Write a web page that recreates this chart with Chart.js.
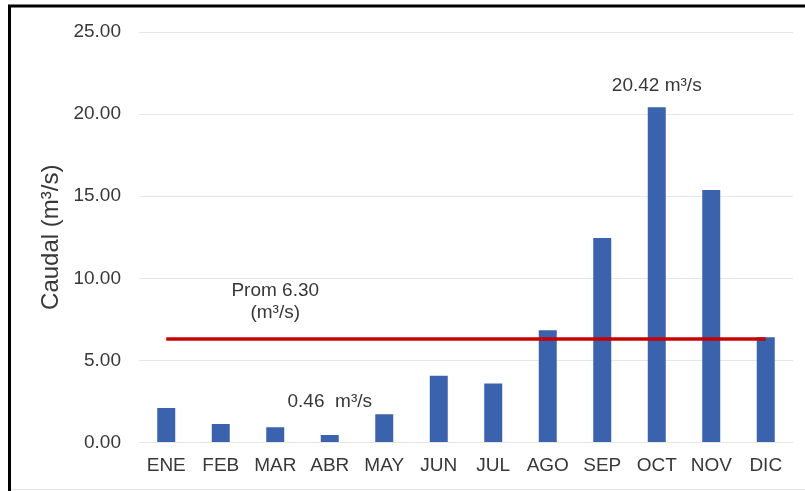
<!DOCTYPE html>
<html>
<head>
<meta charset="utf-8">
<script src="https://cdn.jsdelivr.net/npm/chart.js@4"></script>
<style>
  html, body { margin: 0; padding: 0; background: #ffffff; }
  #wrap { width: 805px; height: 491px; }
</style>
</head>
<body>
<div id="wrap"><canvas id="chart" width="805" height="491"></canvas></div>
<script>
// Caudal medio mensual (m³/s)
const meses = ['ENE', 'FEB', 'MAR', 'ABR', 'MAY', 'JUN', 'JUL', 'AGO', 'SEP', 'OCT', 'NOV', 'DIC'];
const caudal = [2.10, 1.13, 0.93, 0.46, 1.72, 4.07, 3.60, 6.83, 12.45, 20.42, 15.38, 6.41];
const promedio = 6.30;
const lineaPromedio = meses.map(() => promedio);
const ticksY = [0, 5, 10, 15, 20, 25];

const FONT = '"Liberation Sans", Arial, sans-serif';
const TEXT = '#383838';

// Marco negro y rótulos de texto sobre las barras y la línea de promedio
const rotulos = {
  id: 'rotulos',
  beforeDraw(chart) {
    const { ctx } = chart;
    ctx.save();
    ctx.fillStyle = '#ffffff';
    ctx.fillRect(0, 0, chart.width, chart.height);
    ctx.restore();
  },
  afterDraw(chart) {
    const { ctx, scales: { x, y } } = chart;
    ctx.save();
    // marco
    ctx.strokeStyle = '#000000';
    ctx.lineWidth = 3;
    ctx.beginPath();
    ctx.moveTo(9.5, 491);
    ctx.lineTo(9.5, 6);
    ctx.lineTo(805, 6);
    ctx.stroke();
    ctx.strokeStyle = '#e6e6e6';
    ctx.lineWidth = 1;
    ctx.beginPath();
    ctx.moveTo(11, 489.5);
    ctx.lineTo(805, 489.5);
    ctx.stroke();

    ctx.fillStyle = TEXT;
    ctx.textAlign = 'center';
    ctx.textBaseline = 'middle';
    ctx.font = '19px ' + FONT;

    const iMax = caudal.indexOf(Math.max(...caudal));
    const iMin = caudal.indexOf(Math.min(...caudal));
    ctx.fillText(caudal[iMax].toFixed(2) + ' m³/s', x.getPixelForValue(iMax), y.getPixelForValue(caudal[iMax]) - 21);
    ctx.fillText(caudal[iMin].toFixed(2) + '  m³/s', x.getPixelForValue(iMin), y.getPixelForValue(caudal[iMin]) - 33);

    const yp = y.getPixelForValue(promedio);
    ctx.fillText('Prom ' + promedio.toFixed(2), x.getPixelForValue(2), yp - 48);
    ctx.fillText('(m³/s)', x.getPixelForValue(2), yp - 26);
    ctx.restore();
  }
};

new Chart(document.getElementById('chart'), {
  data: {
    labels: meses,
    datasets: [
      {
        type: 'line',
        label: 'Promedio',
        data: lineaPromedio,
        borderColor: '#c80000',
        borderWidth: 3.5,
        pointRadius: 0,
        fill: false,
        order: 0
      },
      {
        type: 'bar',
        label: 'Caudal',
        data: caudal,
        backgroundColor: '#3a62ad',
        barPercentage: 0.33,
        categoryPercentage: 1.0,
        order: 1
      }
    ]
  },
  options: {
    responsive: false,
    animation: false,
    devicePixelRatio: 1,
    layout: { padding: { top: 32, right: 12, bottom: 0, left: 12 } },
    plugins: {
      legend: { display: false },
      tooltip: { enabled: false }
    },
    scales: {
      x: {
        afterFit(scale) { scale.height = 48.5; },
        grid: { display: false, drawTicks: false },
        border: { display: false },
        ticks: {
          padding: 12,
          color: TEXT,
          font: { family: FONT, size: 19 },
          maxRotation: 0,
          autoSkip: false
        }
      },
      y: {
        min: 0,
        max: 25,
        afterFit(scale) { scale.width = 127; },
        afterBuildTicks(scale) { scale.ticks = ticksY.map(v => ({ value: v })); },
        grid: { color: '#e6e6e6', lineWidth: 1, drawTicks: false },
        border: { display: false },
        ticks: {
          padding: 18,
          color: TEXT,
          font: { family: FONT, size: 19 },
          callback: v => Number(v).toFixed(2)
        },
        title: {
          display: true,
          text: 'Caudal (m³/s)',
          color: TEXT,
          font: { family: FONT, size: 24 },
          padding: { top: 25, bottom: 0 }
        }
      }
    }
  },
  plugins: [rotulos]
});
</script>
</body>
</html>
